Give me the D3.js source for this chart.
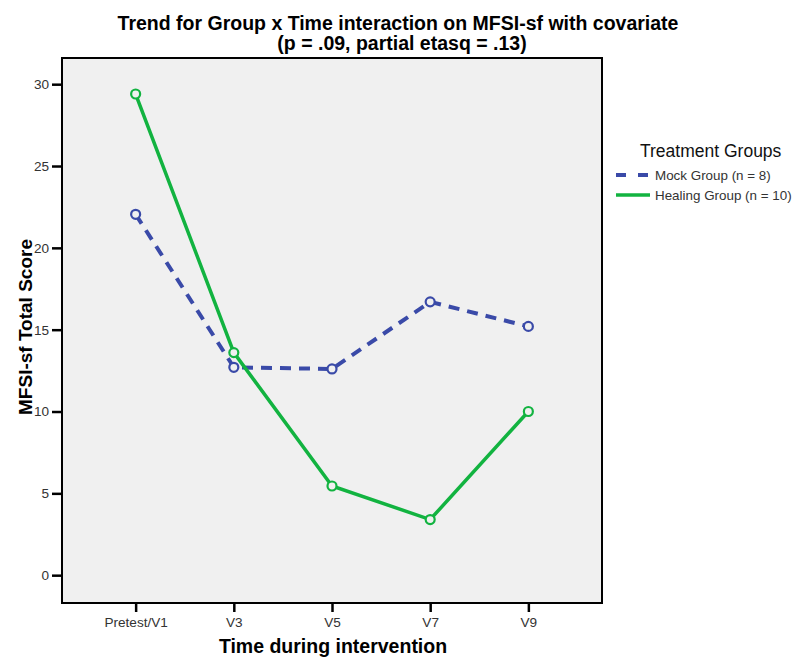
<!DOCTYPE html>
<html>
<head>
<meta charset="utf-8">
<script src="https://cdn.jsdelivr.net/npm/d3@7"></script>
<style>
  body { margin: 0; background: #fff; }
  text { font-family: "Liberation Sans", Arial, sans-serif; }
</style>
</head>
<body>
<div id="chart"></div>
<script>
// data
const timePoints = ["Pretest/V1", "V3", "V5", "V7", "V9"];
const mockScores = [22.05, 12.7, 12.6, 16.7, 15.2];
const healingScores = [29.4, 13.6, 5.45, 3.4, 10.0];
const yTicks = [0, 5, 10, 15, 20, 25, 30];
const groupNames = ["Mock Group (n = 8)", "Healing Group (n = 10)"];

const width = 800, height = 658;
const frame = { left: 62, right: 602, top: 58, bottom: 603 };

const svg = d3.select("#chart").append("svg")
  .attr("width", width)
  .attr("height", height);

const x = d3.scalePoint()
  .domain(timePoints)
  .range([frame.left, frame.right])
  .padding(0.75);

const y = d3.scaleLinear()
  .domain([-1.7, 31.6])
  .range([frame.bottom, frame.top]);

// plot background
svg.append("rect")
  .attr("x", frame.left)
  .attr("y", frame.top)
  .attr("width", frame.right - frame.left)
  .attr("height", frame.bottom - frame.top)
  .attr("fill", "#f0f0f0")
  .attr("stroke", "#000")
  .attr("stroke-width", 2);

// axes
const yAxis = svg.append("g")
  .attr("transform", `translate(${frame.left},0)`)
  .call(d3.axisLeft(y).tickValues(yTicks).tickSize(10).tickPadding(3));
const xAxis = svg.append("g")
  .attr("transform", `translate(0,${frame.bottom})`)
  .call(d3.axisBottom(x).tickSize(9).tickPadding(5));

[yAxis, xAxis].forEach(ax => {
  ax.select(".domain").remove();
  ax.selectAll(".tick line").attr("stroke", "#000").attr("stroke-width", 2.5);
  ax.selectAll(".tick text")
    .attr("fill", "#333")
    .attr("font-size", 13.6);
});

// titles
const title = svg.append("text")
  .attr("text-anchor", "middle")
  .attr("font-weight", "bold")
  .attr("font-size", 19.5)
  .attr("fill", "#000");
title.append("tspan").attr("x", 398).attr("y", 30)
  .text("Trend for Group x Time interaction on MFSI-sf with covariate");
title.append("tspan").attr("x", 402).attr("y", 50)
  .text("(p = .09, partial etasq = .13)");

svg.append("text")
  .attr("transform", `translate(32,327) rotate(-90)`)
  .attr("text-anchor", "middle")
  .attr("font-weight", "bold")
  .attr("font-size", 19)
  .text("MFSI-sf Total Score");

svg.append("text")
  .attr("x", 333)
  .attr("y", 653)
  .attr("text-anchor", "middle")
  .attr("font-weight", "bold")
  .attr("font-size", 19.5)
  .text("Time during intervention");

// series
const series = [
  { name: groupNames[0], values: mockScores, color: "#3a4aa8", dash: "11,8", width: 4 },
  { name: groupNames[1], values: healingScores, color: "#12b340", dash: null, width: 3.5 }
];

const line = d3.line()
  .x((d, i) => x(timePoints[i]))
  .y(d => y(d));

series.forEach(s => {
  svg.append("path")
    .datum(s.values)
    .attr("fill", "none")
    .attr("stroke", s.color)
    .attr("stroke-width", s.width)
    .attr("stroke-dasharray", s.dash)
    .attr("d", line);
  svg.selectAll(null)
    .data(s.values)
    .join("circle")
    .attr("cx", (d, i) => x(timePoints[i]))
    .attr("cy", d => y(d))
    .attr("r", 4.5)
    .attr("fill", "#f0f0f0")
    .attr("stroke", s.color)
    .attr("stroke-width", 2.2);
});

// legend
const legend = svg.append("g").attr("transform", "translate(616,0)");
legend.append("text")
  .attr("x", 24)
  .attr("y", 157)
  .attr("font-size", 17.5)
  .attr("fill", "#111")
  .text("Treatment Groups");

series.forEach((s, i) => {
  const ly = 175 + i * 20;
  legend.append("line")
    .attr("x1", 0).attr("x2", 34)
    .attr("y1", ly).attr("y2", ly)
    .attr("stroke", s.color)
    .attr("stroke-width", s.width)
    .attr("stroke-dasharray", s.dash ? "10,12" : null);
  legend.append("text")
    .attr("x", 39)
    .attr("y", ly + 5)
    .attr("font-size", 13.4)
    .attr("fill", "#333")
    .text(s.name);
});
</script>
</body>
</html>
